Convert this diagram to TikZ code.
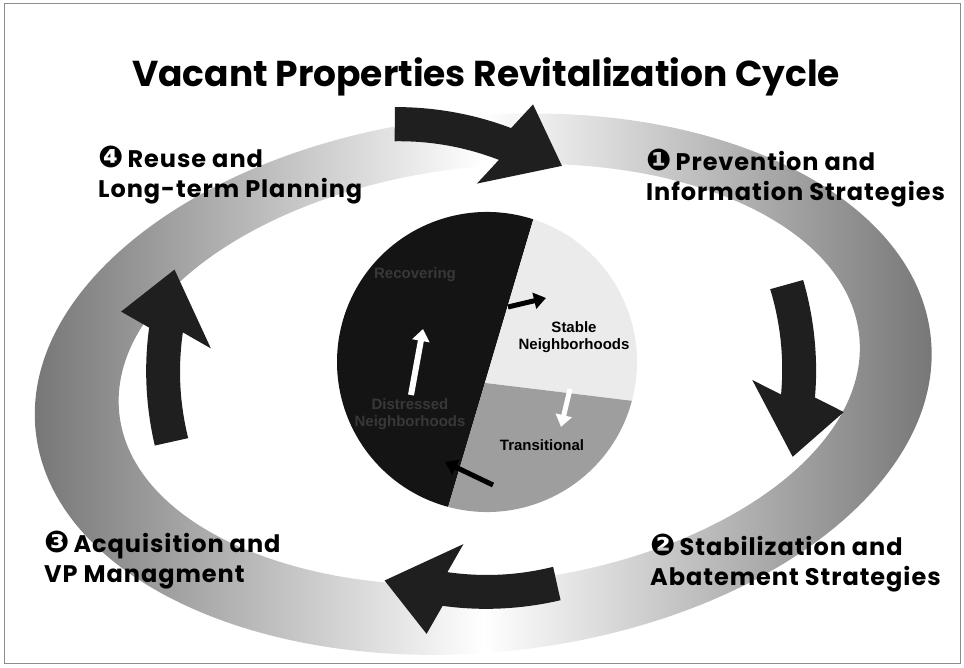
\documentclass[tikz,border=0pt]{standalone}
\usepackage{fontspec}
\setmainfont{Poppins}
\newfontfamily\dingfont{DejaVu Sans}
\newfontfamily\innerfont{Liberation Sans}
\usetikzlibrary{arrows.meta,calc}

\newcommand{\stepnum}[1]{{\dingfont\fontsize{30}{30}\selectfont #1}}

\tikzset{
	steplabel/.style	= {font=\fontsize{24}{30}\selectfont\bfseries\addfontfeature{LetterSpace=4}, align=left, anchor=west, inner sep=0pt},
	innerlabel/.style	= {font=\innerfont\fontsize{15}{17}\selectfont\bfseries, align=center, inner sep=0pt},
	cycarrow/.pic		= {\fill[black!88] (-116,-5) .. controls (-80,9) and (-40,17) .. (0,17) -- (12,47) -- (61,0) -- (-12,-47) -- (0,-17) .. controls (-40,-17) and (-74,-25) .. (-104,-37) -- cycle;}
}

\begin{document}
\begin{tikzpicture}[x=1pt, y=1pt]
	\useasboundingbox (0,0) rectangle (964,667);
	\draw[black!45, line width=1pt] (4,4) rectangle (960,663);

	\path[even odd rule, rotate around={6:(485,285)}, left color=black!55, right color=black!55, middle color=white]
		(483,283) ellipse [x radius=450, y radius=268]
		(490,292) ellipse [x radius=372, y radius=208];

	\node (title) at (486,590)	[font=\fontsize{36}{40}\selectfont\bfseries]	{Vacant Properties Revitalization Cycle};

	\pic (arrTop) at (505,523)	[rotate=-21]	{cycarrow};
	\pic (arrRight) at (798,271)	[rotate=-95]	{cycarrow};
	\pic (arrBottom) at (445,78)	[rotate=172]	{cycarrow};
	\pic (arrLeft) at (166,337)	[rotate=82]	{cycarrow};

	\node (lblPrev) at (646,489)	[steplabel]	{\stepnum{❶}\,Prevention and\\Information Strategies};
	\node (lblStab) at (650,104)	[steplabel]	{\stepnum{❷}\,Stabilization and\\Abatement Strategies};
	\node (lblAcq) at (44,107)	[steplabel]	{\stepnum{❸}\,Acquisition and\\VP Managment};
	\node (lblReuse) at (98,492)	[steplabel]	{\stepnum{❹}\,Reuse and\\Long-term Planning};

	\coordinate (C) at (487,305);
	\path (C) ++(72:150) coordinate (T);
	\path (C) ++(255:150) coordinate (B);
	\path (C) ++(-15:150) coordinate (R);
	\coordinate (P) at ($(T)!0.569!(B)$);
	\fill[black!92] (T) arc[start angle=72, end angle=255, radius=150] -- cycle;
	\fill[black!8] (T) -- (P) -- (R) arc[start angle=-15, end angle=72, radius=150] -- cycle;
	\fill[black!38] (P) -- (B) arc[start angle=255, end angle=345, radius=150] -- cycle;

	\node (recover) at (415,392)	[innerlabel, text=black!78]	{Recovering};
	\node (distress) at (410,253)	[innerlabel, text=black!78]	{Distressed\\Neighborhoods};
	\node (stable) at (574,330)	[innerlabel]	{Stable\\Neighborhoods};
	\node (trans) at (542,222)	[innerlabel]	{Transitional};

	\coordinate (a1) at (508,360);	\coordinate (a2) at (546,369);
	\coordinate (b1) at (411,272);	\coordinate (b2) at (423,338);
	\coordinate (c1) at (570,278);	\coordinate (c2) at (561,240);
	\coordinate (d1) at (493,182);	\coordinate (d2) at (445,205);
	\draw[line width=5pt, black, -{Triangle[length=12pt, width=16pt]}] (a1) -- (a2);
	\draw[line width=6pt, white, -{Triangle[length=12pt, width=17pt]}] (b1) -- (b2);
	\draw[line width=5pt, white, -{Triangle[length=12pt, width=16pt]}] (c1) -- (c2);
	\draw[line width=5pt, black, -{Triangle[length=12pt, width=16pt]}] (d1) -- (d2);
\end{tikzpicture}
\end{document}
